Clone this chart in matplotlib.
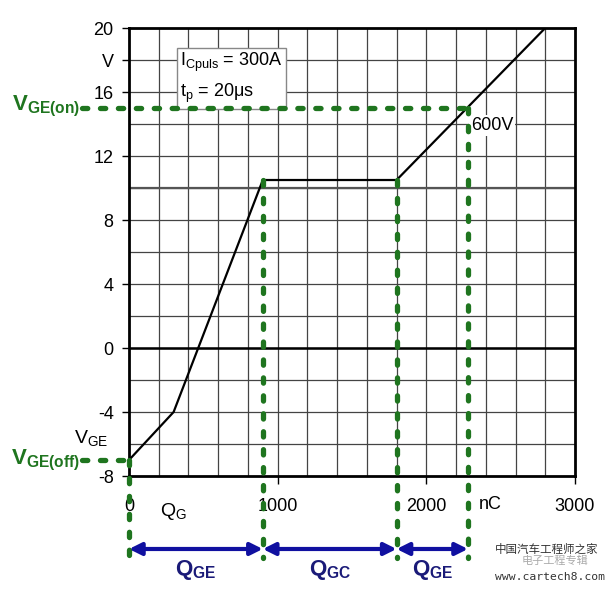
import numpy as np
import matplotlib.pyplot as plt

plt.rcParams['font.family'] = ['Liberation Sans', 'Noto Sans CJK SC', 'DejaVu Sans']
plt.rcParams['mathtext.fontset'] = 'custom'
plt.rcParams['mathtext.rm'] = 'Liberation Sans'
plt.rcParams['mathtext.bf'] = 'Liberation Sans:bold'
plt.rcParams['mathtext.it'] = 'Liberation Sans:italic'

# gate charge curve V_GE(Q_G)
q_nc = [0, 300, 900, 1800, 2800]
v_ge = [-7, -4, 10.5, 10.5, 20]

v_on = 15
v_off = -7
q_marks = [0, 900, 1800, 2280]      # start, plateau begin, plateau end, V_GE(on)
q_tops = [-7, 10.5, 10.5, 15]
seg_labels = ['GE', 'GC', 'GE']

yticks = [-8, -4, 0, 4, 8, 12, 16, 18, 20]
ytick_labels = ['-8', '-4', '0', '4', '8', '12', '16', 'V', '20']
xticks = [0, 1000, 2000, 3000]
xtick_labels = ['0', '1000', '2000', '3000']

green = '#1f751f'
navy = '#1010a0'
navy_txt = '#1a1a78'

fig = plt.figure(figsize=(6.1, 5.92), dpi=100)
ax = fig.add_axes([0.2115, 0.1959, 0.7311, 0.7568])
ax.set_xlim(0, 3000)
ax.set_ylim(-8, 20)

# grid
for x in np.arange(200, 3000, 200):
    ax.axvline(x, color='#444444', lw=0.9, zorder=1)
for y in np.arange(-6, 20, 2):
    ax.axhline(y, color='#444444', lw=0.9, zorder=1)
ax.axhline(10, color='#555555', lw=1.6, zorder=1)
ax.axhline(0, color='black', lw=1.8, zorder=2)

for s in ax.spines.values():
    s.set_linewidth(2)

ax.set_yticks(yticks, ytick_labels)
ax.set_xticks(xticks, xtick_labels)
ax.tick_params(axis='y', direction='out', length=5, width=1, pad=6, labelsize=13)
ax.tick_params(axis='x', direction='out', length=6, width=1, pad=10, labelsize=13)

ax.plot(q_nc, v_ge, color='black', lw=1.6, zorder=3)

# green dashed guide lines
style = dict(color=green, lw=3.8, dashes=(1.0, 2.4), dash_capstyle='round',
             clip_on=False, zorder=5)
ax.plot([-316, q_marks[-1]], [v_on, v_on], **style)
ax.plot([-316, 0], [v_off, v_off], **style)
for q, top in zip(q_marks, q_tops):
    ax.plot([q, q], [top, -13.1], **style)

# charge arrows
for a, b, lab in zip(q_marks[:-1], q_marks[1:], seg_labels):
    ax.annotate('', xy=(b, -12.56), xytext=(a, -12.56),
                arrowprops=dict(arrowstyle='<|-|>', color=navy, lw=3,
                                mutation_scale=18, shrinkA=0, shrinkB=0),
                annotation_clip=False, zorder=6)
    ax.text((a + b) / 2, -13.9, r'$\mathbf{Q}_{\mathbf{%s}}$' % lab, color=navy_txt,
            fontsize=16, ha='center', va='center', clip_on=False)

# labels
ax.text(-330, 15.1, r'$\mathbf{V}_{\mathbf{GE(on)}}$', color=green, fontsize=16,
        ha='right', va='center', clip_on=False)
ax.text(-330, -7.0, r'$\mathbf{V}_{\mathbf{GE(off)}}$', color=green, fontsize=16,
        ha='right', va='center', clip_on=False)
ax.text(-370, -5.6, r'$\mathrm{V}_{\mathrm{GE}}$', color='black', fontsize=14,
        ha='left', va='center', clip_on=False)
ax.text(210, -10.2, r'$\mathrm{Q}_{\mathrm{G}}$', color='black', fontsize=14,
        ha='left', va='center', clip_on=False)
ax.text(2350, -9.8, 'nC', color='black', fontsize=13, ha='left', va='center',
        clip_on=False)
ax.text(2300, 13.9, '600V', color='black', fontsize=13, ha='left', va='center',
        zorder=4, bbox=dict(boxstyle='square,pad=0.1', fc='white', ec='none'))
ax.text(345, 18.55, 'I$_{\\mathrm{Cpuls}}$ = 300A\nt$_{\\mathrm{p}}$ = 20μs', fontsize=13,
        ha='left', va='top', zorder=4, linespacing=1.5,
        bbox=dict(boxstyle='square,pad=0.2', fc='white', ec='#888888', lw=1))

# watermark
fig.text(0.855, 0.052, '电子工程专辑', fontsize=8, color='#aaaaaa',
         family=['Noto Sans CJK SC'], ha='left', va='center')
fig.text(0.812, 0.072, '中国汽车工程师之家', fontsize=8.3, color='#333333',
         family=['Noto Sans CJK SC'], ha='left', va='center')
fig.text(0.812, 0.026, 'www.cartech8.com', fontsize=8.2, color='#333333',
         family=['DejaVu Sans Mono'], ha='left', va='center')

fig.savefig('out.png', dpi=100)
